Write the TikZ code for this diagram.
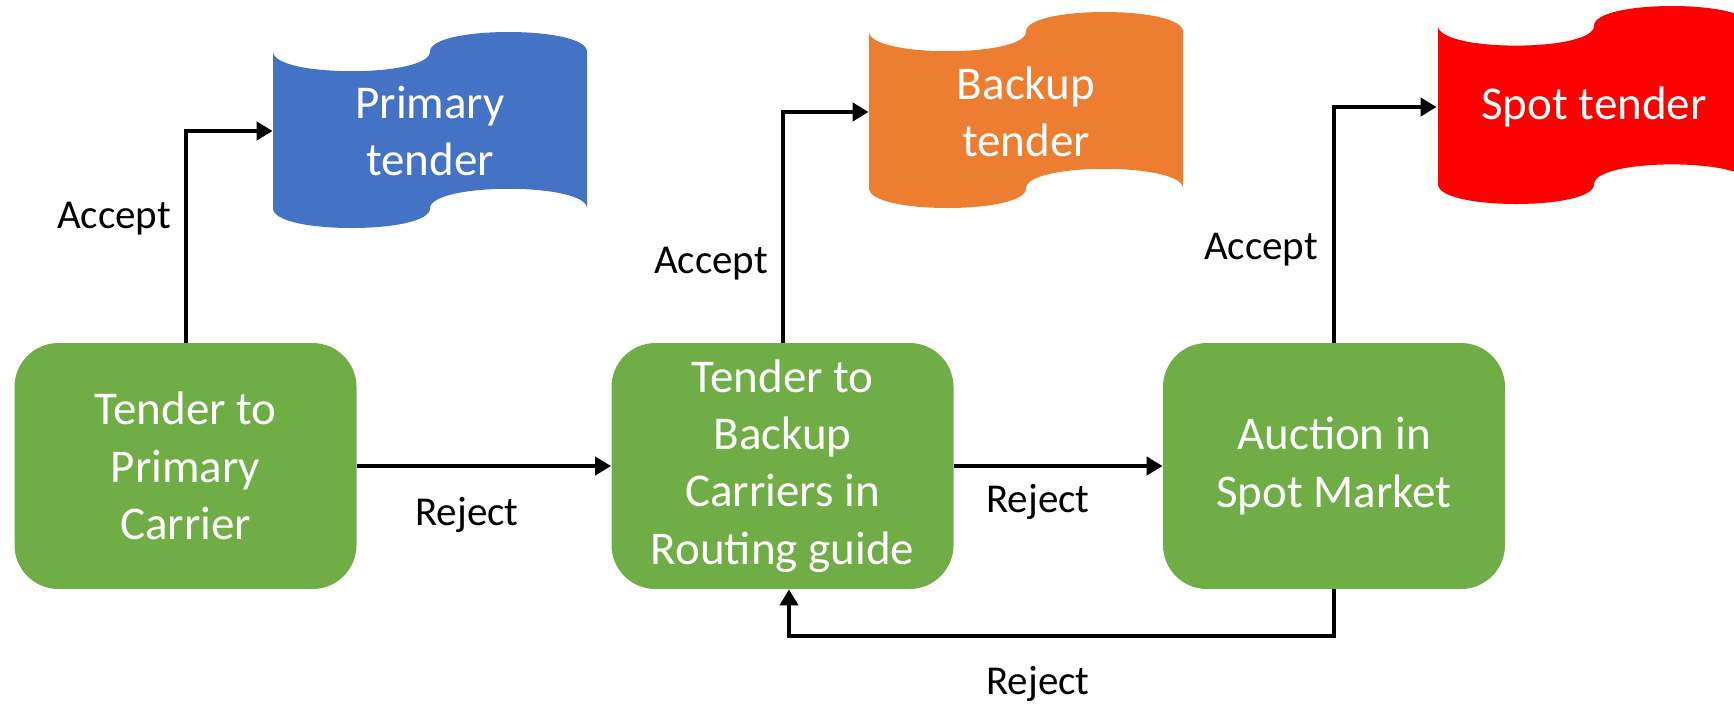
\documentclass[tikz,border=0pt]{standalone}
\usepackage{fontspec}
\setmainfont{Carlito}
\usetikzlibrary{arrows.meta}
\definecolor{boxgreen}{HTML}{70AD47}
\definecolor{tblue}{HTML}{4472C4}
\definecolor{torange}{HTML}{ED7D31}
\definecolor{tred}{HTML}{FF0000}
\newcommand{\tapeshape}[5]{% x0, y0, w, h, colour
  \fill[#5] (#1,{#2+#4/10})
    .. controls (#1,{#2+#4/10*7/3}) and ({#1+#3/2},{#2+#4/10*7/3}) .. ({#1+#3/2},{#2+#4/10})
    .. controls ({#1+#3/2},{#2-#4/10/3}) and ({#1+#3},{#2-#4/10/3}) .. ({#1+#3},{#2+#4/10})
    -- ({#1+#3},{#2+#4-#4/10})
    .. controls ({#1+#3},{#2+#4-#4/10*7/3}) and ({#1+#3/2},{#2+#4-#4/10*7/3}) .. ({#1+#3/2},{#2+#4-#4/10})
    .. controls ({#1+#3/2},{#2+#4+#4/10/3}) and (#1,{#2+#4+#4/10/3}) .. (#1,{#2+#4-#4/10})
    -- cycle;}
\begin{document}
\begin{tikzpicture}[x=0.5pt,y=-0.5pt,
  box/.style={fill=boxgreen, rounded corners=22pt, minimum width=171pt, minimum height=123pt,
    inner sep=0pt, align=center, text=white, font=\fontsize{23.5}{28.7}\selectfont},
  tapetext/.style={inner sep=0pt, minimum width=157pt, minimum height=20pt, align=center,
    text=white, font=\fontsize{23.5}{28.7}\selectfont},
  lbl/.style={inner sep=0pt, font=\fontsize{20.5}{24}\selectfont},
  arr/.style={line width=2pt, -{Triangle[length=8pt,width=9pt]}}]
\useasboundingbox (0,0) rectangle (1734,703);
\clip (0,0) rectangle (1734,703);
% tapes
\tapeshape{273}{32}{314}{196}{tblue}
\tapeshape{869}{12}{314}{196}{torange}
\tapeshape{1438}{6}{312}{198}{tred}
\node[tapetext] (t1) at (430,131) {Primary\\tender};
\node[tapetext] (t2) at (1026,112) {Backup\\tender};
\node[tapetext] (t3) at (1594,107) {Spot tender};
% boxes
\node[box] (b1) at (185.5,466) {Tender to\\Primary\\Carrier};
\node[box] (b2) at (782.5,466) {Tender to\\Backup\\Carriers in\\Routing guide};
\node[box] (b3) at (1334,466) {Auction in\\Spot Market};
% connectors
\draw[arr] (b1.north) |- (t1.west);
\draw[arr] (b2.north) |- (t2.west);
\draw[arr] (b3.north) |- (t3.west);
\draw[arr] (b1.east) -- (b2.west);
\draw[arr] (b2.east) -- (b3.west);
\coordinate (c1) at (1334,636);
\coordinate (c2) at (789,636);
\draw[arr] (b3.south) -- (c1) -- (c2) -- (c2 |- b2.south);
% labels
\node[lbl] (l1) at (114,219) {Accept};
\node[lbl] (l2) at (711,264) {Accept};
\node[lbl] (l3) at (1261,250) {Accept};
\node[lbl] (l4) at (467,515) {Reject};
\node[lbl] (l5) at (1038,502) {Reject};
\node[lbl] (l6) at (1038,684) {Reject};
\end{tikzpicture}
\end{document}
